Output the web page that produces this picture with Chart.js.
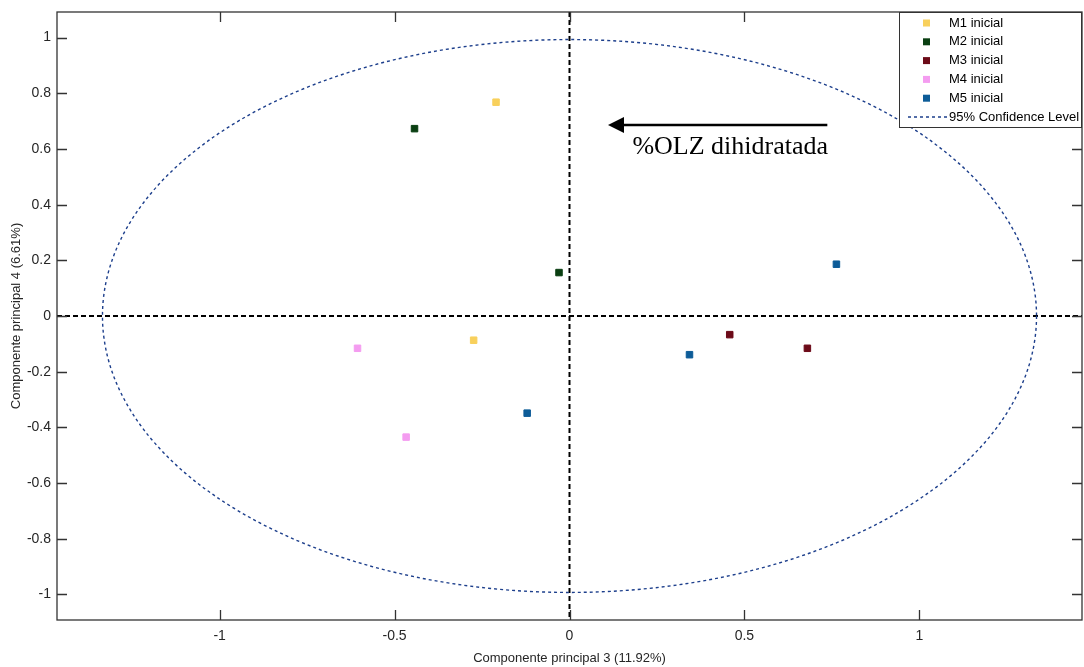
<!DOCTYPE html>
<html>
<head>
<meta charset="utf-8">
<script src="https://cdn.jsdelivr.net/npm/chart.js@4.4.1/dist/chart.umd.min.js"></script>
<style>
  html, body { margin: 0; padding: 0; background: #fff; }
  #wrap { width: 1084px; height: 667px; }
</style>
</head>
<body>
<div id="wrap"><canvas id="pca" width="1084" height="667"></canvas></div>
<script>
// PCA scores, component 3 vs component 4
const seriesNames = ["M1 inicial", "M2 inicial", "M3 inicial", "M4 inicial", "M5 inicial"];
const seriesColors = ["#f8d05c", "#0a3f12", "#6c0a18", "#f49cf0", "#0d5c98"];

const m1x = [-0.210, -0.274];
const m1y = [0.768, -0.087];
const m2x = [-0.443, -0.030];
const m2y = [0.673, 0.156];
const m3x = [0.458, 0.680];
const m3y = [-0.067, -0.116];
const m4x = [-0.606, -0.467];
const m4y = [-0.116, -0.435];
const m5x = [-0.121, 0.343, 0.763];
const m5y = [-0.349, -0.139, 0.186];

// 95% confidence ellipse radii (x, y), centred on the origin
const ellipseRadii = [1.335, 0.993];
const ellipseLabel = "95% Confidence Level";
const ellipseColor = "#1d3f8c";

const xTitle = "Componente principal 3 (11.92%)";
const yTitle = "Componente principal 4 (6.61%)";
const arrowText = "%OLZ dihidratada";

const xs = [m1x, m2x, m3x, m4x, m5x];
const ys = [m1y, m2y, m3y, m4y, m5y];

function toPoints(xArr, yArr) {
  return xArr.map((x, i) => ({ x: x, y: yArr[i] }));
}

const datasets = seriesNames.map((name, i) => ({
  label: name,
  data: toPoints(xs[i], ys[i]),
  pointStyle: "rect",
  pointRadius: 4.6,
  borderWidth: 1,
  backgroundColor: seriesColors[i],
  borderColor: seriesColors[i],
  showLine: false
}));

const axisFont = { family: "'Liberation Sans', Arial, sans-serif", size: 14 };
const titleFont = { family: "'Liberation Sans', Arial, sans-serif", size: 13 };
const tickText = v => String(Number(v.toFixed(2)));

// keep the plot box where it is: no extra room for edge labels
function fixPadding(s) {
  s.paddingLeft = 0;
  s.paddingRight = 0;
  s.paddingTop = 0;
  s.paddingBottom = 0;
}

// box, inward ticks, zero lines and the ellipse
const framePlugin = {
  id: "frame",
  beforeDatasetsDraw(chart) {
    const { ctx, chartArea: a, scales: { x, y } } = chart;
    ctx.save();

    // dashed zero lines
    ctx.strokeStyle = "#000";
    ctx.lineWidth = 2;
    ctx.setLineDash([5, 3]);
    const x0 = x.getPixelForValue(0);
    const y0 = y.getPixelForValue(0);
    ctx.beginPath();
    ctx.moveTo(a.left, y0);
    ctx.lineTo(a.right, y0);
    ctx.moveTo(x0, a.top);
    ctx.lineTo(x0, a.bottom);
    ctx.stroke();

    // confidence ellipse
    const rx = (x.getPixelForValue(ellipseRadii[0]) - x.getPixelForValue(-ellipseRadii[0])) / 2;
    const ry = (y.getPixelForValue(-ellipseRadii[1]) - y.getPixelForValue(ellipseRadii[1])) / 2;
    ctx.strokeStyle = ellipseColor;
    ctx.lineWidth = 1.4;
    ctx.setLineDash([3, 3]);
    ctx.beginPath();
    ctx.ellipse(x0, y0, rx, ry, 0, 0, Math.PI * 2);
    ctx.stroke();

    ctx.restore();
  },
  afterDatasetsDraw(chart) {
    const { ctx, chartArea: a, scales: { x, y } } = chart;
    ctx.save();
    ctx.setLineDash([]);
    ctx.strokeStyle = "#333";
    ctx.lineWidth = 1.3;
    ctx.strokeRect(a.left, a.top, a.right - a.left, a.bottom - a.top);

    ctx.beginPath();
    x.ticks.forEach(t => {
      const px = Math.round(x.getPixelForValue(t.value)) + 0.5;
      ctx.moveTo(px, a.bottom); ctx.lineTo(px, a.bottom - 10);
      ctx.moveTo(px, a.top); ctx.lineTo(px, a.top + 10);
    });
    y.ticks.forEach(t => {
      const py = Math.round(y.getPixelForValue(t.value)) + 0.5;
      ctx.moveTo(a.left, py); ctx.lineTo(a.left + 10, py);
      ctx.moveTo(a.right, py); ctx.lineTo(a.right - 10, py);
    });
    ctx.stroke();

    // arrow with label
    const ax1 = x.getPixelForValue(0.737), ax2 = x.getPixelForValue(0.110);
    const ay = y.getPixelForValue(0.686);
    ctx.strokeStyle = "#000";
    ctx.fillStyle = "#000";
    ctx.lineWidth = 2.5;
    ctx.beginPath();
    ctx.moveTo(ax1, ay);
    ctx.lineTo(ax2 + 14, ay);
    ctx.stroke();
    ctx.beginPath();
    ctx.moveTo(ax2, ay);
    ctx.lineTo(ax2 + 16, ay - 8);
    ctx.lineTo(ax2 + 16, ay + 8);
    ctx.closePath();
    ctx.fill();

    ctx.font = "26px 'Liberation Serif', 'Times New Roman', serif";
    ctx.textAlign = "right";
    ctx.textBaseline = "alphabetic";
    ctx.fillText(arrowText, x.getPixelForValue(0.739), y.getPixelForValue(0.581));

    // legend box, top right inside the axes
    const lw = 182, lh = 115;
    const lx = a.right - lw - 1, ly = a.top;
    ctx.fillStyle = "#fff";
    ctx.fillRect(lx, ly, lw, lh);
    ctx.strokeStyle = "#333";
    ctx.lineWidth = 1;
    ctx.strokeRect(lx + 0.5, ly + 0.5, lw, lh);

    ctx.font = "13px 'Liberation Sans', Arial, sans-serif";
    ctx.textAlign = "left";
    ctx.textBaseline = "middle";
    const rowH = 18.8;
    chart.data.datasets.forEach((ds, i) => {
      const cy = ly + 11 + i * rowH;
      ctx.fillStyle = ds.backgroundColor;
      ctx.fillRect(lx + 24, cy - 3.5, 7, 7);
      ctx.fillStyle = "#000";
      ctx.fillText(ds.label, lx + 50, cy);
    });
    const cy = ly + 11 + seriesNames.length * rowH;
    ctx.strokeStyle = ellipseColor;
    ctx.lineWidth = 1.4;
    ctx.setLineDash([3, 3]);
    ctx.beginPath();
    ctx.moveTo(lx + 9, cy);
    ctx.lineTo(lx + 48, cy);
    ctx.stroke();
    ctx.setLineDash([]);
    ctx.fillStyle = "#000";
    ctx.fillText(ellipseLabel, lx + 50, cy);

    ctx.restore();
  }
};

new Chart(document.getElementById("pca"), {
  type: "scatter",
  data: { datasets: datasets },
  options: {
    responsive: false,
    animation: false,
    layout: { autoPadding: false, padding: { top: 12, right: 2, left: 0, bottom: 0 } },
    plugins: {
      legend: { display: false },
      tooltip: { enabled: false }
    },
    scales: {
      x: {
        type: "linear",
        min: -1.465,
        max: 1.465,
        grid: { display: false, drawTicks: false },
        border: { display: false },
        ticks: {
          stepSize: 0.5,
          includeBounds: false,
          padding: 8,
          color: "#262626",
          font: axisFont,
          maxRotation: 0,
          callback: tickText
        },
        title: { display: true, text: xTitle, color: "#262626", font: titleFont, padding: { top: 0, bottom: 1 } },
        afterFit: s => { s.height = 47; fixPadding(s); }
      },
      y: {
        type: "linear",
        min: -1.092,
        max: 1.092,
        grid: { display: false, drawTicks: false },
        border: { display: false },
        ticks: {
          stepSize: 0.2,
          includeBounds: false,
          padding: 6,
          color: "#262626",
          font: axisFont,
          callback: tickText
        },
        title: { display: true, text: yTitle, color: "#262626", font: titleFont, padding: { top: 9, bottom: 0 } },
        afterFit: s => { s.width = 57; fixPadding(s); }
      }
    }
  },
  plugins: [framePlugin]
});
</script>
</body>
</html>
